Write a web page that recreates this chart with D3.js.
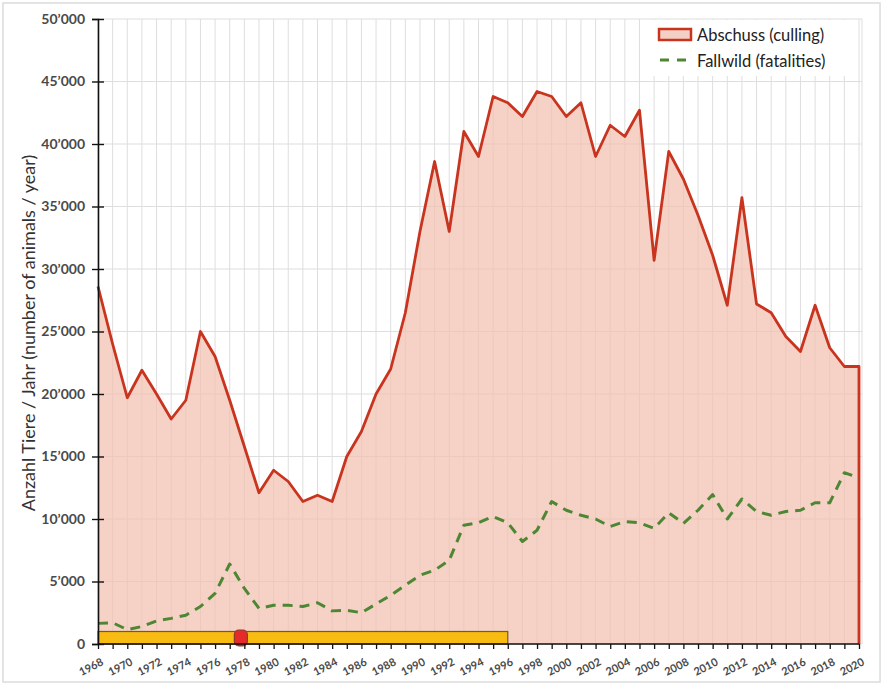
<!DOCTYPE html>
<html lang="de">
	<head>
		<meta charset="utf-8">
		<title>Abschuss und Fallwild</title>
		<script src="https://cdn.jsdelivr.net/npm/d3@7"></script>
		<style type="text/css">
			body { margin: 0; background: #fff; }
			text { font-family: Lato, "Open Sans", sans-serif; }
		</style>
	</head>
	<body>
		<script type="text/javascript">

			//Width and height
			var w = 883;
			var h = 684;

			// years 1968 - 2020
			var years = [1968, 1969, 1970, 1971, 1972, 1973, 1974, 1975, 1976, 1977,
						1978, 1979, 1980, 1981, 1982, 1983, 1984, 1985, 1986, 1987,
						1988, 1989, 1990, 1991, 1992, 1993, 1994, 1995, 1996, 1997,
						1998, 1999, 2000, 2001, 2002, 2003, 2004, 2005, 2006, 2007,
						2008, 2009, 2010, 2011, 2012, 2013, 2014, 2015, 2016, 2017,
						2018, 2019, 2020];

			// Abschuss (culling)
			var abschuss = [28600, 24000, 19700, 21900, 20000, 18000, 19500, 25000, 23000, 19500,
							15800, 12100, 13900, 13000, 11400, 11900, 11400, 15000, 17000, 20000,
							22000, 26500, 33000, 38600, 33000, 41000, 39000, 43800, 43300, 42200,
							44200, 43800, 42200, 43300, 39000, 41500, 40600, 42700, 30700, 39400,
							37200, 34300, 31100, 27100, 35700, 27200, 26500, 24600, 23400, 27100,
							23700, 22200, 22200];

			// Fallwild (fatalities)
			var fallwild = [1650, 1700, 1150, 1400, 1850, 2050, 2300, 3000, 4050, 6400,
							4450, 2850, 3100, 3100, 3000, 3300, 2650, 2700, 2500, 3200,
							3900, 4700, 5500, 5900, 6700, 9500, 9700, 10200, 9700, 8200,
							9100, 11400, 10700, 10300, 10000, 9400, 9800, 9700, 9250, 10500,
							9650, 10700, 11950, 10000, 11600, 10600, 10300, 10600, 10700, 11300,
							11300, 13700, 13300];

			var yTicks = [0, 5000, 10000, 15000, 20000, 25000, 30000, 35000, 40000, 45000, 50000];
			var xLabelYears = [1968, 1970, 1972, 1974, 1976, 1978, 1980, 1982, 1984, 1986, 1988,
							1990, 1992, 1994, 1996, 1998, 2000, 2002, 2004, 2006, 2008, 2010,
							2012, 2014, 2016, 2018, 2020];

			// yellow period bar and red marker
			var period = [1968, 1996];
			var markerYear = 1978;

			var legendLabels = ["Abschuss (culling)", "Fallwild (fatalities)"];
			var yTitle = "Anzahl Tiere / Jahr  (number of animals / year)";

			// plot box
			var pLeft = 98, pRight = 862, pTop = 19, pBottom = 644;

			var xScale = d3.scaleLinear()
							.domain([1968, 2020])
							.range([pLeft, 859]);

			var yScale = d3.scaleLinear()
							.domain([0, 50000])
							.range([pBottom, pTop]);

			var fmt = d3.formatLocale({ decimal: ".", thousands: "\u2019", grouping: [3], currency: ["", ""] }).format(",d");

			//Create SVG element
			var svg = d3.select("body")
						.append("svg")
						.attr("width", w)
						.attr("height", h);

			// frame
			svg.append("rect")
				.attr("x", 3).attr("y", 3)
				.attr("width", w - 6).attr("height", h - 5)
				.attr("fill", "#fff")
				.attr("stroke", "#dcdcdc")
				.attr("stroke-width", 1.5);

			//Gridlines
			svg.append("g")
				.selectAll("line")
				.data(years)
				.enter()
				.append("line")
				.attr("x1", function(d) { return xScale(d); })
				.attr("x2", function(d) { return xScale(d); })
				.attr("y1", pTop)
				.attr("y2", pBottom)
				.attr("stroke", "#dedede")
				.attr("stroke-width", 1);

			svg.append("line")
				.attr("x1", pRight).attr("x2", pRight)
				.attr("y1", pTop).attr("y2", pBottom)
				.attr("stroke", "#dedede");

			svg.append("g")
				.selectAll("line")
				.data(yTicks)
				.enter()
				.append("line")
				.attr("x1", pLeft)
				.attr("x2", pRight)
				.attr("y1", function(d) { return yScale(d); })
				.attr("y2", function(d) { return yScale(d); })
				.attr("stroke", "#dedede")
				.attr("stroke-width", 1.2);

			var data = years.map(function(y, i) {
				return { year: y, a: abschuss[i], f: fallwild[i] };
			});

			//Area for Abschuss
			var area = d3.area()
						.x(function(d) { return xScale(d.year); })
						.y0(yScale(0))
						.y1(function(d) { return yScale(d.a); });

			svg.append("path")
				.datum(data)
				.attr("d", area)
				.attr("fill", "#f1bfb0")
				.attr("fill-opacity", 0.72);

			var line = d3.line()
						.x(function(d) { return xScale(d.year); })
						.y(function(d) { return yScale(d.a); });

			var outline = data.concat([{ year: years[years.length - 1], a: 0 }]);

			svg.append("path")
				.datum(outline)
				.attr("d", line)
				.attr("fill", "none")
				.attr("stroke", "#c9341f")
				.attr("stroke-width", 2.8)
				.attr("stroke-linejoin", "round");

			//Fallwild dashed line
			var lineF = d3.line()
						.x(function(d) { return xScale(d.year); })
						.y(function(d) { return yScale(d.f); });

			svg.append("path")
				.datum(data)
				.attr("d", lineF)
				.attr("fill", "none")
				.attr("stroke", "#4e8733")
				.attr("stroke-width", 3)
				.attr("stroke-dasharray", "10,7")
				.attr("stroke-linejoin", "round");

			//Yellow bar and marker
			svg.append("rect")
				.attr("x", xScale(period[0]))
				.attr("y", pBottom - 12.5)
				.attr("width", xScale(period[1]) - xScale(period[0]))
				.attr("height", 12.5)
				.attr("fill", "#f8bb12")
				.attr("stroke", "#6e5a35")
				.attr("stroke-width", 1.2);

			svg.append("rect")
				.attr("x", xScale(markerYear) - 10)
				.attr("y", pBottom - 14)
				.attr("width", 13)
				.attr("height", 16)
				.attr("rx", 4.5)
				.attr("fill", "#e52a2a")
				.attr("stroke", "#8d3a2c")
				.attr("stroke-width", 1.2);

			//Axes
			var yAxis = d3.axisLeft(yScale)
							.tickValues(yTicks)
							.tickSize(6)
							.tickFormat(function(d) { return fmt(d); });

			var gy = svg.append("g")
						.attr("transform", "translate(" + pLeft + ",0)")
						.call(yAxis);
			gy.select(".domain").attr("stroke", "#111").attr("stroke-width", 1.6);
			gy.selectAll(".tick line").attr("x1", 6).attr("x2", -6).attr("stroke", "#111").attr("stroke-width", 1.4);
			gy.selectAll(".tick text")
				.attr("x", -13)
				.attr("font-family", "Lato, sans-serif")
				.attr("font-size", "14px")
				.attr("font-weight", "bold")
				.attr("fill", "#4a4a4a");

			var xAxis = d3.axisBottom(xScale)
							.tickValues(years)
							.tickSize(5)
							.tickFormat(function(d) { return xLabelYears.indexOf(d) >= 0 ? d : ""; });

			var gx = svg.append("g")
						.attr("transform", "translate(0," + pBottom + ")")
						.call(xAxis);
			gx.select(".domain").attr("stroke", "#111").attr("stroke-width", 1.6).attr("d", "M" + pLeft + ",0H" + xScale(2020));
			gx.selectAll(".tick line").attr("stroke", "#111").attr("stroke-width", 1.3);
			gx.selectAll(".tick text")
				.attr("font-family", "Lato, sans-serif")
				.attr("font-size", "11px")
				.attr("font-weight", "bold")
				.attr("fill", "#4a4a4a")
				.attr("text-anchor", "end")
				.attr("transform", "translate(4,17) rotate(-27)")
				.attr("y", 0)
				.attr("dy", "0.35em");

			//Y axis title
			svg.append("text")
				.attr("transform", "translate(35," + 333 + ") rotate(-90)")
				.attr("text-anchor", "middle")
				.attr("font-size", "18px")
				.attr("fill", "#333")
				.text(yTitle);

			//Legend
			svg.append("rect")
				.attr("x", 652).attr("y", 20)
				.attr("width", 200).attr("height", 56)
				.attr("fill", "#fff");

			svg.append("rect")
				.attr("x", 659).attr("y", 29)
				.attr("width", 32).attr("height", 11)
				.attr("fill", "#f2d0c6")
				.attr("stroke", "#c9341f")
				.attr("stroke-width", 2.5);

			svg.append("line")
				.attr("x1", 660).attr("x2", 691)
				.attr("y1", 60).attr("y2", 60)
				.attr("stroke", "#4e8733")
				.attr("stroke-width", 3)
				.attr("stroke-dasharray", "9,8");

			svg.selectAll(".legtext")
				.data(legendLabels)
				.enter()
				.append("text")
				.attr("class", "legtext")
				.attr("x", 697)
				.attr("y", function(d, i) { return 35 + i * 26; })
				.attr("dy", "0.35em")
				.attr("font-size", "16.5px")
				.attr("fill", "#222")
				.text(function(d) { return d; });

		</script>
	</body>
</html>
